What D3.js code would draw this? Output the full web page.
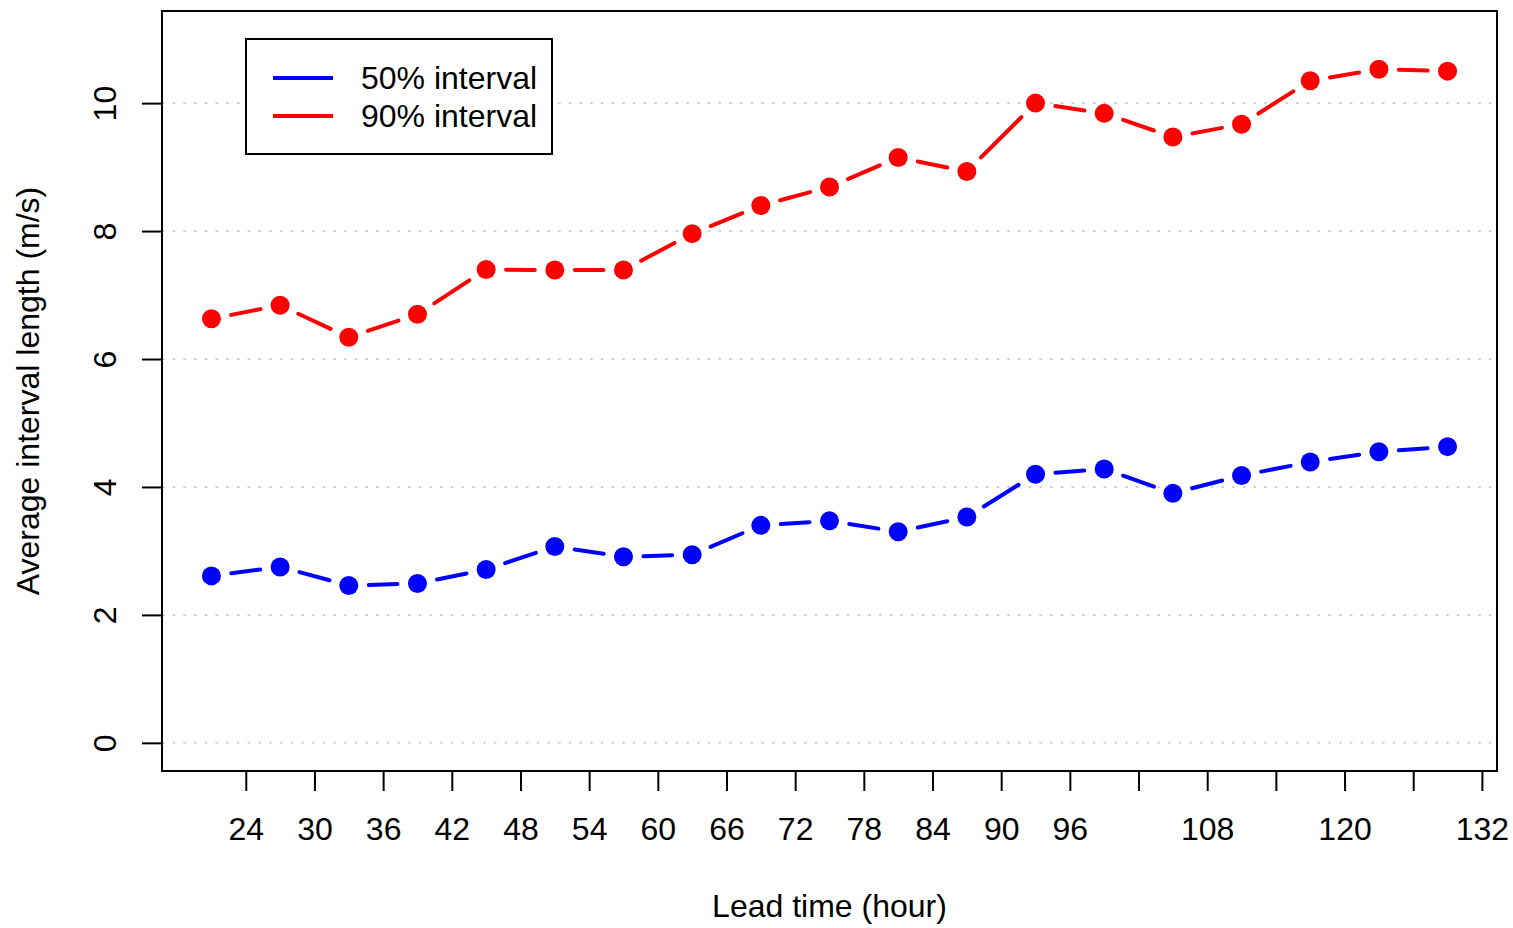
<!DOCTYPE html>
<html>
<head>
<meta charset="utf-8">
<script src="https://cdn.jsdelivr.net/npm/d3@7"></script>
<style>
body{margin:0;background:#fff;}
text{font-family:"Liberation Sans",Arial,Helvetica,sans-serif;}
</style>
</head>
<body>
<div id="chart"></div>
<script>
// lead times (hours) and average interval lengths (m/s)
var leadTime = [21,27,33,39,45,51,57,63,69,75,81,87,93,99,105,111,117,123,129];
var int50 = [2.61,2.75,2.46,2.49,2.71,3.07,2.91,2.94,3.40,3.47,3.30,3.53,4.20,4.28,3.90,4.18,4.39,4.55,4.63];
var int90 = [6.63,6.84,6.34,6.70,7.40,7.39,7.39,7.96,8.40,8.69,9.15,8.93,10.00,9.84,9.47,9.67,10.35,10.53,10.50];
var xTicks = [24,30,36,42,48,54,60,66,72,78,84,90,96,102,108,114,120,126,132];
var xHidden = [102,114,126]; // labels R dropped for overlap
var yTicks = [0,2,4,6,8,10];
var seriesNames = ['50% interval','90% interval'];
var seriesColors = ['#0000ff','#ff0000'];

var width = 1513, height = 928,
	pLeft = 162, pRight = 1497, pTop = 11, pBottom = 771;

var svg = d3.select('#chart').append('svg')
	.attr('width',width)
	.attr('height',height);

// R style 4% extension of xlim/ylim
var xr = d3.extent(leadTime), xe = (xr[1]-xr[0])*0.04;
var x = d3.scaleLinear().domain([xr[0]-xe, xr[1]+xe]).range([pLeft,pRight]);
var yl = [0,11], ye = (yl[1]-yl[0])*0.04;
var y = d3.scaleLinear().domain([yl[0]-ye, yl[1]+ye]).range([pBottom,pTop]);

// dotted grid
svg.selectAll('.grid')
	.data(yTicks)
	.enter()
	.append('line')
	.attr('class','grid')
	.attr('x1',pLeft).attr('x2',pRight)
	.attr('y1',function(d){ return y(d); })
	.attr('y2',function(d){ return y(d); })
	.attr('stroke','#d3d3d3')
	.attr('stroke-width',2)
	.attr('stroke-dasharray','2.7,8');

// x axis
var xAxis = svg.append('g')
	.attr('transform','translate(0,'+pBottom+')')
	.call(d3.axisBottom(x)
		.tickValues(xTicks)
		.tickSize(20)
		.tickPadding(26)
		.tickFormat(function(d){ return xHidden.indexOf(d) >= 0 ? '' : d; }));
xAxis.select('.domain').remove();
xAxis.selectAll('line').attr('stroke','#000').attr('stroke-width',2);
xAxis.selectAll('text').attr('font-size',32).attr('fill','#000')
	.style('font-family','"Liberation Sans",Arial,Helvetica,sans-serif');

// y axis
var yAxis = svg.append('g')
	.attr('transform','translate('+pLeft+',0)')
	.call(d3.axisLeft(y).tickValues(yTicks).tickSize(20));
yAxis.select('.domain').remove();
yAxis.selectAll('line').attr('stroke','#000').attr('stroke-width',2);
yAxis.selectAll('text')
	.attr('x',0).attr('dy',0)
	.attr('transform','translate(-46,0) rotate(-90)')
	.attr('text-anchor','middle')
	.attr('font-size',32).attr('fill','#000')
	.style('font-family','"Liberation Sans",Arial,Helvetica,sans-serif');

// series: type="b" style, segments with gaps round the points
var gap = 20;
[int50,int90].forEach(function(vals,k){
	var pts = leadTime.map(function(t,i){ return [x(t), y(vals[i])]; });
	var segs = d3.pairs(pts);
	svg.append('g').selectAll('line')
		.data(segs)
		.enter()
		.append('line')
		.each(function(s){
			var dx = s[1][0]-s[0][0], dy = s[1][1]-s[0][1],
				len = Math.sqrt(dx*dx+dy*dy), ux = dx/len, uy = dy/len;
			d3.select(this)
				.attr('x1',s[0][0]+ux*gap).attr('y1',s[0][1]+uy*gap)
				.attr('x2',s[1][0]-ux*gap).attr('y2',s[1][1]-uy*gap);
		})
		.attr('stroke',seriesColors[k])
		.attr('stroke-width',4)
		.attr('stroke-linecap','round');
	svg.append('g').selectAll('circle')
		.data(pts)
		.enter()
		.append('circle')
		.attr('cx',function(d){ return d[0]; })
		.attr('cy',function(d){ return d[1]; })
		.attr('r',9.5)
		.attr('fill',seriesColors[k]);
});

// box
svg.append('rect')
	.attr('x',pLeft).attr('y',pTop)
	.attr('width',pRight-pLeft).attr('height',pBottom-pTop)
	.attr('fill','none').attr('stroke','#000').attr('stroke-width',2);

// axis titles
svg.append('text')
	.text('Lead time (hour)')
	.attr('x',(pLeft+pRight)/2).attr('y',917)
	.attr('text-anchor','middle')
	.attr('font-size',32);
svg.append('text')
	.text('Average interval length (m/s)')
	.attr('transform','translate(39,'+((pTop+pBottom)/2)+') rotate(-90)')
	.attr('text-anchor','middle')
	.attr('font-size',32);

// legend
var legend = svg.append('g');
legend.append('rect')
	.attr('x',246).attr('y',39)
	.attr('width',306).attr('height',115)
	.attr('fill','#fff').attr('stroke','#000').attr('stroke-width',2);
var items = legend.selectAll('.item')
	.data(seriesNames)
	.enter()
	.append('g')
	.attr('transform',function(d,i){ return 'translate(0,'+(78+38*i)+')'; });
items.append('line')
	.attr('x1',273).attr('x2',333)
	.attr('y1',0).attr('y2',0)
	.attr('stroke',function(d,i){ return seriesColors[i]; })
	.attr('stroke-width',4);
items.append('text')
	.text(function(d){ return d; })
	.attr('x',361).attr('y',11)
	.attr('font-size',32);
</script>
</body>
</html>
